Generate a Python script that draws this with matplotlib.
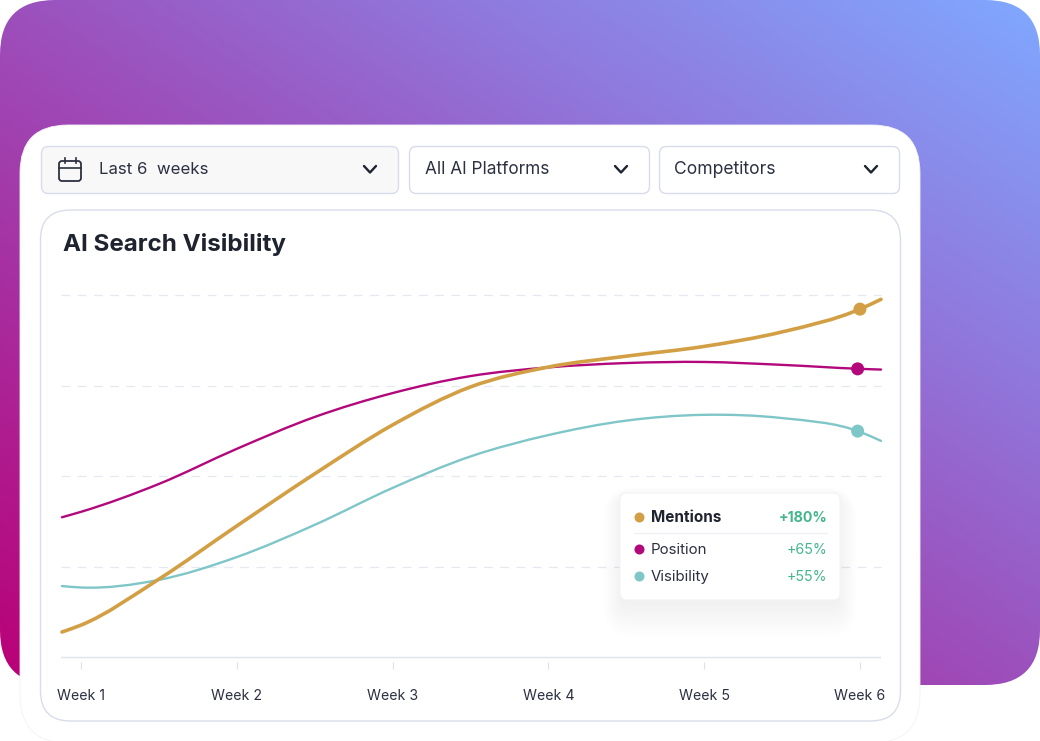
import numpy as np
import matplotlib
matplotlib.use("Agg")
import matplotlib.pyplot as plt
from matplotlib.colors import LinearSegmentedColormap
from matplotlib.patches import FancyBboxPatch, PathPatch
from matplotlib.path import Path

plt.rcParams["font.family"] = ["Inter", "DejaVu Sans"]

W, H = 1040, 741

# chart data
weeks = ["Week 1", "Week 2", "Week 3", "Week 4", "Week 5", "Week 6"]
week_pos = [1, 2, 3, 4, 5, 6]
x_vals = [0.878, 1.0, 1.5, 2.0, 2.5, 3.0, 3.5, 4.0, 4.5, 5.0, 5.5, 6.0, 6.135]
mentions = [6.9, 8.8, 21.5, 36.2, 50.6, 64.1, 74.6, 80.1, 83.1, 85.8, 89.8, 96.1, 98.8]
position = [38.6, 40.1, 47.8, 57.5, 66.3, 72.9, 77.6, 80.0, 81.2, 81.5, 80.7, 79.6, 79.4]
visibility = [19.6, 19.2, 21.3, 27.6, 36.5, 46.7, 55.4, 61.3, 65.3, 66.9, 66.0, 62.2, 59.7]
end_x = [6.0, 5.985, 5.985]
end_y = [96.1, 79.6, 62.4]
names = ["Mentions", "Position", "Visibility"]
changes = ["+180%", "+65%", "+55%"]
colors = ["#D39F45", "#B2087C", "#7FC6C8"]
widths = [2.6, 1.7, 1.7]
grid_vals = [25, 50, 75, 100]

DARK = "#1E2330"
TEXT = "#2C3040"
EDGE = "#D9DCEA"
GREEN = "#43B68C"


def rbox(ax, x0, y0, x1, y1, r, fc="white", ec="none", lw=1.0, **kw):
    p = FancyBboxPatch((x0 + r, y0 + r), x1 - x0 - 2 * r, y1 - y0 - 2 * r,
                       boxstyle=f"round,pad={r},rounding_size={r}",
                       fc=fc, ec=ec, lw=lw, **kw)
    ax.add_patch(p)
    return p


def smooth_path(x, y):
    # cubic segments through the read points
    x = np.array(x)
    y = np.array(y)
    m = np.gradient(y, x)
    verts = [(x[0], y[0])]
    codes = [Path.MOVETO]
    for i in range(len(x) - 1):
        d = (x[i + 1] - x[i]) / 3
        verts += [(x[i] + d, y[i] + m[i] * d),
                  (x[i + 1] - d, y[i + 1] - m[i + 1] * d),
                  (x[i + 1], y[i + 1])]
        codes += [Path.CURVE4] * 3
    return Path(verts, codes)


fig = plt.figure(figsize=(W / 100, H / 100), dpi=100, facecolor="white")

# -------------------------
# background and cards, pixel coordinates
# -------------------------
bg = fig.add_axes([0, 0, 1, 1], zorder=0)
bg.set_xlim(0, W)
bg.set_ylim(H, 0)
bg.axis("off")

cmap = LinearSegmentedColormap.from_list(
    "bg", [(0, "#BA0076"), (0.28, "#A82C9E"), (0.5, "#9C50BC"), (0.72, "#9078DC"), (1, "#80A8FF")])
xx, yy = np.meshgrid(np.linspace(0, 1, 400), np.linspace(0, 1, 300))
im = bg.imshow((xx + 1 - yy) / 2, cmap=cmap, extent=(0, 1040, 685, 0), aspect="auto", zorder=1)
clip = rbox(bg, 0, 0, 1040, 685, 55, fc="none", zorder=0)
im.set_clip_path(clip)
bg.set_xlim(0, W)
bg.set_ylim(H, 0)

rbox(bg, 20, 125, 920, 743, 48, fc="white", ec="#F2F2F9", lw=0.6, zorder=2)
rbox(bg, 40.5, 210, 900.5, 721, 30, fc="white", ec=EDGE, lw=1.0, zorder=3)

# dropdowns
rbox(bg, 41.5, 146.5, 398.5, 193.5, 7, fc="#F8F8F9", ec=EDGE, lw=1.0, zorder=3)
rbox(bg, 409.5, 146.5, 649.5, 193.5, 7, fc="white", ec=EDGE, lw=1.0, zorder=3)
rbox(bg, 659.5, 146.5, 899.5, 193.5, 7, fc="white", ec=EDGE, lw=1.0, zorder=3)
bg.text(99, 170, "Last 6  weeks", fontsize=12.1, color=TEXT, va="center", zorder=4)
bg.text(425, 170, "All AI Platforms", fontsize=12.4, color=TEXT, va="center", zorder=4)
bg.text(674, 170, "Competitors", fontsize=12.6, color=TEXT, va="center", zorder=4)
for cx in [370, 621, 871]:
    bg.plot([cx - 6, cx, cx + 6], [166, 172.5, 166], color=DARK, lw=1.7, zorder=4,
            solid_capstyle="round", solid_joinstyle="round")

# calendar icon
rbox(bg, 59, 161, 81, 181, 3, fc="none", ec=TEXT, lw=1.3, zorder=4)
bg.plot([59, 81], [168, 168], color=TEXT, lw=1.2, zorder=4)
bg.plot([64.5, 64.5], [158, 163], color=TEXT, lw=1.2, zorder=4)
bg.plot([75.5, 75.5], [158, 163], color=TEXT, lw=1.2, zorder=4)

bg.text(63, 244.5, "AI Search Visibility", fontsize=17.4, fontweight="bold", color=DARK,
        va="center", zorder=4)

# -------------------------
# chart
# -------------------------
px_per_unit = (657 - 295) / 100
left, right, top, bottom = 61, 881, 295, 662
ax = fig.add_axes([left / W, 1 - bottom / H, (right - left) / W, (bottom - top) / H], zorder=1)
ax.patch.set_alpha(0)
ax.set_xlim(0.872, 6.135)
ax.set_ylim(-(bottom - 657) / px_per_unit, 100)
for s in ax.spines.values():
    s.set_visible(False)
ax.set_yticks(grid_vals)
ax.tick_params(axis="y", length=0, labelleft=False)
ax.grid(axis="y", color="#E6E8F1", lw=0.9, ls=(0, (7, 6)), clip_on=False)
ax.axhline(0, color="#E0E3EE", lw=1.0)
ax.set_xticks(week_pos)
ax.set_xticklabels(weeks, fontsize=10.2, color=TEXT)
ax.tick_params(axis="x", length=5, width=0.8, color="#DDE0EB", pad=14.5)

for vals, c, lw, z in zip([visibility, position, mentions], colors[::-1], widths[::-1], [3, 3, 4]):
    ax.add_patch(PathPatch(smooth_path(x_vals, vals), fc="none", ec=c, lw=lw,
                           capstyle="round", zorder=z, clip_on=False))
ax.scatter(end_x, end_y, s=88, c=colors, zorder=5, linewidths=0, clip_on=False)

# -------------------------
# tooltip
# -------------------------
tip = fig.add_axes([0, 0, 1, 1], zorder=2)
tip.set_xlim(0, W)
tip.set_ylim(H, 0)
tip.axis("off")
for g in range(14):
    rbox(tip, 622 - g * 1.4, 500 - g, 838 + g * 1.4, 604 + g * 2.6, 6 + g * 2,
         fc="#AEB6CC", alpha=0.01, zorder=1)
rbox(tip, 620, 493, 840, 600, 7, fc="white", ec="#F2F3F8", lw=0.8, zorder=2)
tip.plot([634, 827], [532.5, 532.5], color="#F0F1F6", lw=1, zorder=3)
for name, chg, c, y, i in zip(names, changes, colors, [517, 549, 576], range(3)):
    tip.scatter([639], [y], s=52, c=c, linewidths=0, zorder=3)
    weight = "bold" if i == 0 else "normal"
    tip.text(651, y + 0.8, name, fontsize=11 if i == 0 else 10.8, fontweight=weight,
             color=DARK if i == 0 else TEXT, va="center", zorder=3)
    tip.text(827.5, y + 0.8, chg, fontsize=10.2, fontweight=weight, color=GREEN, va="center", ha="right", zorder=3)

fig.savefig("out.png", dpi=100)
